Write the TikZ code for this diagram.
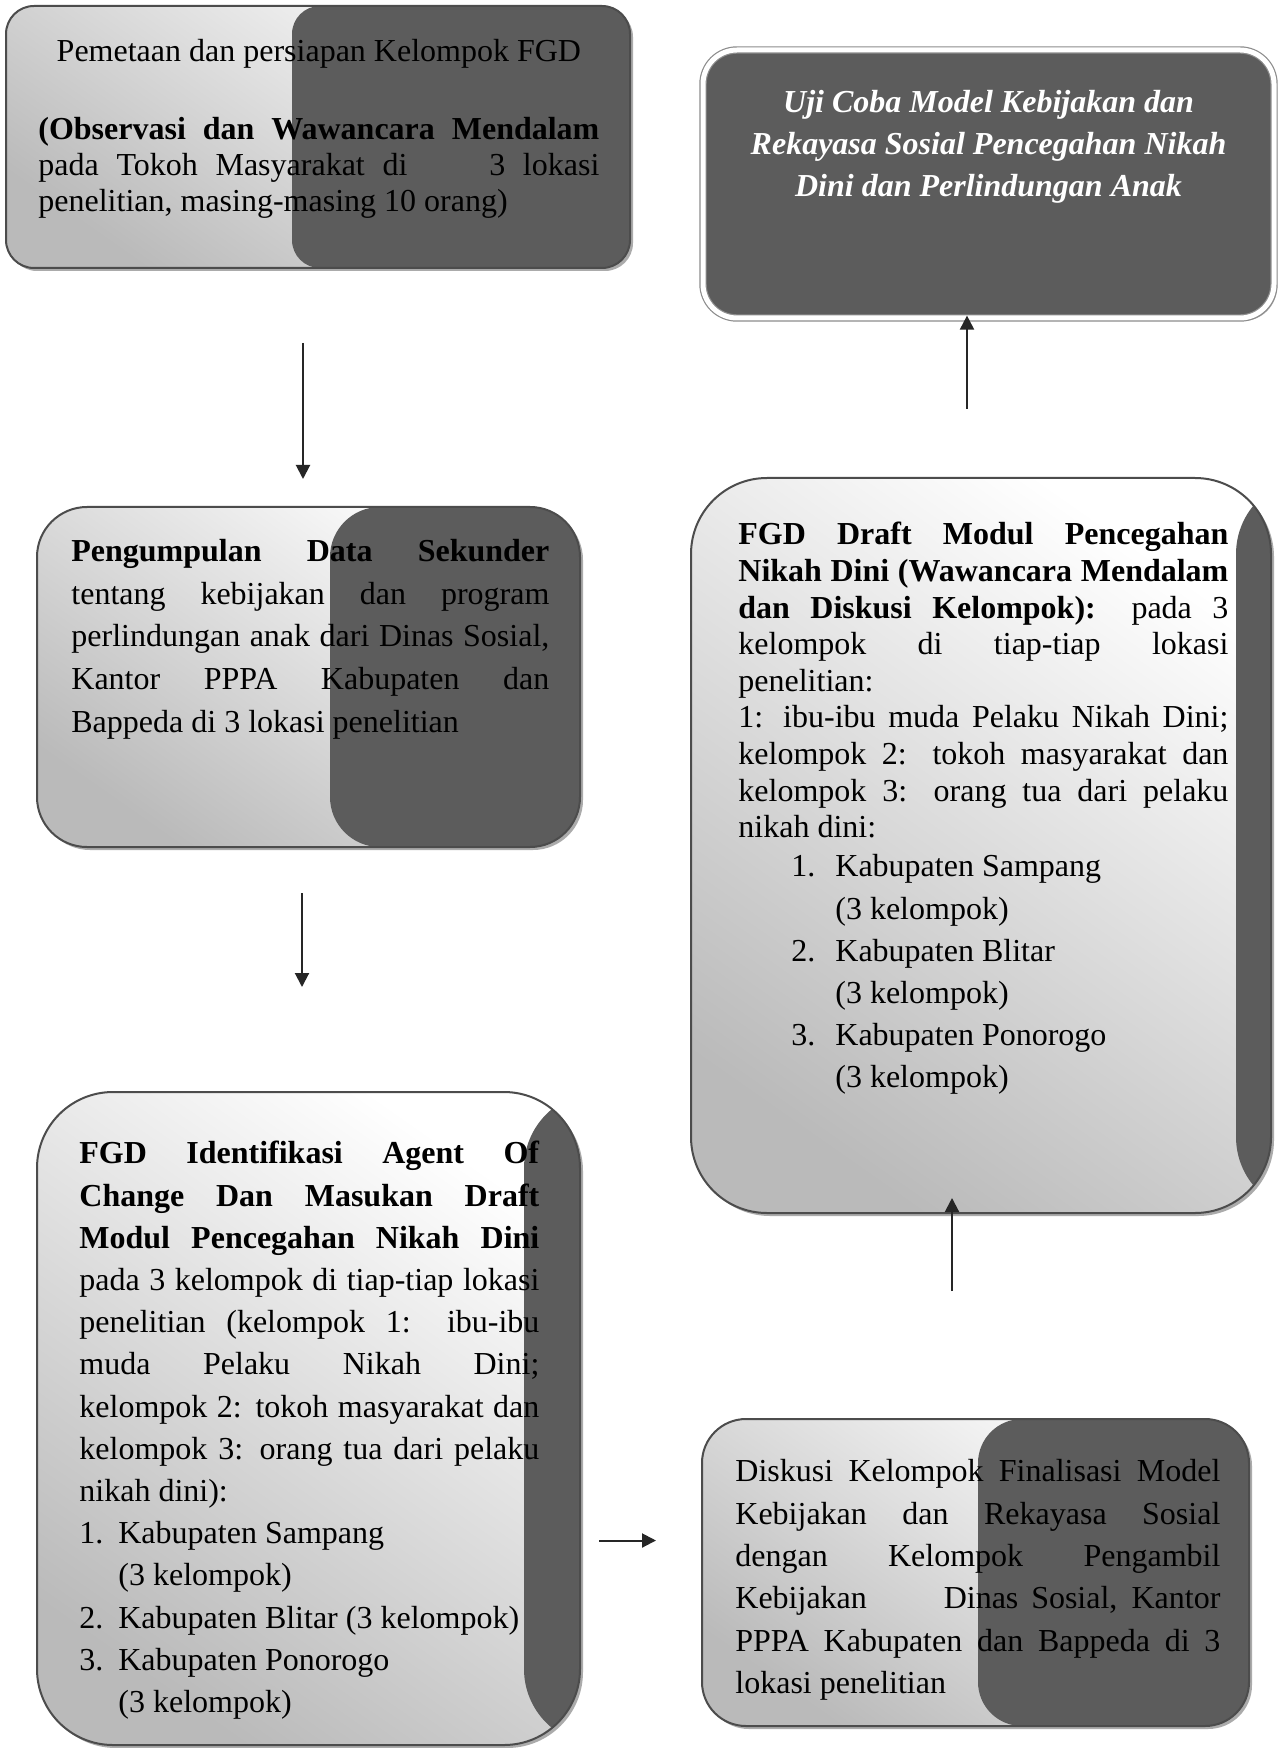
\documentclass[tikz,border=0pt]{standalone}
\usepackage{fontspec}
\setmainfont{Liberation Serif}
\usetikzlibrary{calc, fit, shadows, arrows.meta}
\setlength{\parindent}{0pt}
\definecolor{darkfill}{RGB}{92,92,92}
\newcommand{\kabitem}[3]{\par\noindent\hangindent=#2\hangafter=1\hspace*{#1}\makebox[\dimexpr#2-#1\relax][l]{#3}\ignorespaces}
\tikzset{
  flowbox/.style={draw=black!70, line width=1pt, rounded corners=#1, inner sep=0pt, top color=white, bottom color=black!27, shading angle=-35, drop shadow={shadow xshift=1.5pt, shadow yshift=-1.5pt, fill=black!65}},
  darkfrom/.style={path picture={\fill[darkfill] ($(path picture bounding box.north west)+(#1,0)$) rectangle (path picture bounding box.south east);}},
  boxtext/.style={inner sep=0pt, anchor=north west, align=justify, text=black, font=\fontsize{16}{#1}\selectfont},
  flowarrow/.style={line width=1pt, black!85, -{Triangle[length=7pt, width=7pt]}}
}

\begin{document}
\begin{tikzpicture}[x=0.5pt, y=-0.5pt]
    \path[fill=white, use as bounding box] (0,0) rectangle (1278,1748);
    \node[flowbox=14pt, darkfrom=286, fit={(6,6) (630,268)}] (pemetaan) {};
    \node[flowbox=17pt, darkfrom=0, draw=black!45, line width=0.6pt, double=white, double distance=2.5pt, fit={(703,50) (1274,318)}] (ujicoba) {};
    \node[flowbox=25pt, darkfrom=293, fit={(37,507) (580,847)}] (sekunder) {};
    \node[flowbox=38pt, darkfrom=487, fit={(37,1092) (580,1745)}] (agent) {};
    \node[flowbox=38pt, darkfrom=545, fit={(691,478) (1271,1213)}] (draft) {};
    \node[flowbox=22pt, darkfrom=276, fit={(702,1419) (1249,1726)}] (finalisasi) {};

    \node[boxtext=18, text width=280.5pt] (pemetaanTxt) at ([shift={(33,34)}]pemetaan.north west)
        {{\centering Pemetaan dan persiapan Kelompok FGD\par}\vskip 21pt
         \textbf{(Observasi dan Wawancara Mendalam}\linebreak
         pada Tokoh Masyarakat di \hspace{2em}3 lokasi\linebreak
         penelitian, masing-masing 10 orang)};
    \node[font=\fontsize{16}{21}\selectfont\bfseries\itshape, text=white, align=center] (ujicobaTxt) at ([shift={(0,-37)}]ujicoba.center)
        {Uji Coba Model Kebijakan dan\\Rekayasa Sosial Pencegahan Nikah\\Dini dan Perlindungan Anak};
    \node[boxtext=21.3, text width=239pt] (sekunderTxt) at ([shift={(35,33)}]sekunder.north west)
        {\textbf{Pengumpulan Data Sekunder}\linebreak
         tentang kebijakan dan program\linebreak
         perlindungan anak dari Dinas Sosial,\linebreak
         Kantor PPPA Kabupaten dan\linebreak
         Bappeda di 3 lokasi penelitian};
    \node[boxtext=21.1, text width=230pt] (agentTxt) at ([shift={(43,50)}]agent.north west)
        {\textbf{FGD Identifikasi Agent Of}\linebreak
         \textbf{Change Dan Masukan Draft}\linebreak
         \textbf{Modul Pencegahan Nikah Dini}\linebreak
         pada 3 kelompok di tiap-tiap lokasi\linebreak
         penelitian (kelompok 1: ibu-ibu\linebreak
         muda Pelaku Nikah Dini;\linebreak
         kelompok 2: tokoh masyarakat dan\linebreak
         kelompok 3: orang tua dari pelaku\linebreak
         nikah dini):
         \kabitem{0pt}{19.5pt}{1.}Kabupaten Sampang\newline (3 kelompok)
         \kabitem{0pt}{19.5pt}{2.}Kabupaten Blitar (3 kelompok)
         \kabitem{0pt}{19.5pt}{3.}Kabupaten Ponorogo\newline (3 kelompok)\par};
    \node[boxtext=18.3, text width=245pt] (draftTxt) at ([shift={(48,45)}]draft.north west)
        {\textbf{FGD Draft Modul Pencegahan}\linebreak
         \textbf{Nikah Dini (Wawancara Mendalam}\linebreak
         \textbf{dan Diskusi Kelompok):} pada 3\linebreak
         kelompok di tiap-tiap lokasi\linebreak
         penelitian:\newline
         1: ibu-ibu muda Pelaku Nikah Dini;\linebreak
         kelompok 2: tokoh masyarakat dan\linebreak
         kelompok 3: orang tua dari pelaku\linebreak
         nikah dini:\par
         \fontsize{16}{21.1}\selectfont\vspace{-1.5pt}
         \kabitem{26.5pt}{48.5pt}{1.}Kabupaten Sampang\newline (3 kelompok)
         \kabitem{26.5pt}{48.5pt}{2.}Kabupaten Blitar\newline (3 kelompok)
         \kabitem{26.5pt}{48.5pt}{3.}Kabupaten Ponorogo\newline (3 kelompok)\par};
    \node[boxtext=21.2, text width=242.5pt] (finalisasiTxt) at ([shift={(34,41)}]finalisasi.north west)
        {Diskusi Kelompok Finalisasi Model\linebreak
         Kebijakan dan Rekayasa Sosial\linebreak
         dengan Kelompok Pengambil\linebreak
         Kebijakan \hspace{2em}Dinas Sosial, Kantor\linebreak
         PPPA Kabupaten dan Bappeda di 3\linebreak
         lokasi penelitian};

    \coordinate (a1) at ([xshift=-7.5pt]pemetaan.south);
    \coordinate (a2) at ([xshift=-3.25pt]sekunder.south);
    \coordinate (a3) at ([yshift=16pt]finalisasi.west);
    \coordinate (a4) at ([xshift=-11.75pt]finalisasi.north);
    \coordinate (a5) at ([xshift=-7pt]draft.north);
    \draw[flowarrow, shorten <=37pt, shorten >=13.5pt] (a1) -- (a1 |- sekunder.north);
    \draw[flowarrow, shorten <=22.5pt, shorten >=52pt] (a2) -- (a2 |- agent.north);
    \draw[flowarrow, shorten <=9pt, shorten >=22.5pt] (agent.east |- a3) -- (a3);
    \draw[flowarrow, shorten <=63.5pt, shorten >=-8pt] (a4) -- (a4 |- draft.south);
    \draw[flowarrow, shorten <=34pt, shorten >=-1.5pt] (a5) -- (a5 |- ujicoba.south);
\end{tikzpicture}
\end{document}
